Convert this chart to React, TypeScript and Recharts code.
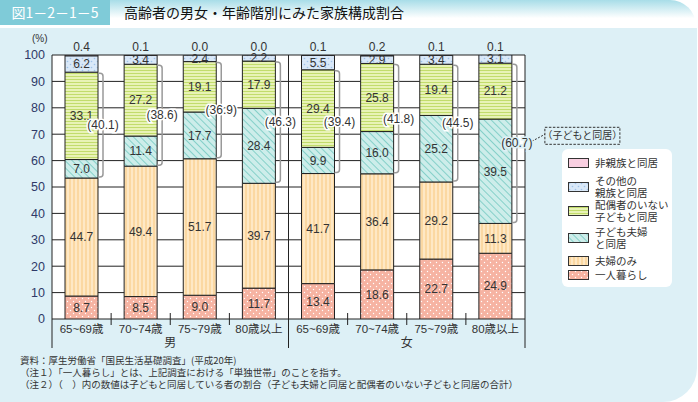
import React from "react";
import { BarChart, Bar, XAxis, YAxis, CartesianGrid, LabelList } from "recharts";

// 年齢階級（男女それぞれ4区分）
const ageGroups = ["65~69歳", "70~74歳", "75~79歳", "80歳以上", "65~69歳", "70~74歳", "75~79歳", "80歳以上"];
const sexes = ["男", "男", "男", "男", "女", "女", "女", "女"];

// 家族構成割合（%）下から順に積み上げ
const livingAlone = [8.7, 8.5, 9.0, 11.7, 13.4, 18.6, 22.7, 24.9];
const coupleOnly = [44.7, 49.4, 51.7, 39.7, 41.7, 36.4, 29.2, 11.3];
const withMarriedChild = [7.0, 11.4, 17.7, 28.4, 9.9, 16.0, 25.2, 39.5];
const withUnmarriedChild = [33.1, 27.2, 19.1, 17.9, 29.4, 25.8, 19.4, 21.2];
const withOtherRelatives = [6.2, 3.4, 2.4, 2.2, 5.5, 2.9, 3.4, 3.1];
const withNonRelatives = [0.4, 0.1, 0.0, 0.0, 0.1, 0.2, 0.1, 0.1];
// 子どもと同居（子ども夫婦と同居＋配偶者のいない子どもと同居）
const withChildrenTotal = [40.1, 38.6, 36.9, 46.3, 39.4, 41.8, 44.5, 60.7];

const yTicks = [0, 10, 20, 30, 40, 50, 60, 70, 80, 90, 100];

// legend, top to bottom
const legendItems = [
  { label: ["非親族と同居"], fill: "url(#pNon)" },
  { label: ["その他の", "親族と同居"], fill: "url(#pOther)" },
  { label: ["配偶者のいない", "子どもと同居"], fill: "url(#pUnmarried)" },
  { label: ["子ども夫婦", "と同居"], fill: "url(#pMarried)" },
  { label: ["夫婦のみ"], fill: "url(#pCouple)" },
  { label: ["一人暮らし"], fill: "url(#pAlone)" },
];
const legendTops = [8, 26, 50, 77, 106, 120];

const data = ageGroups.map((age, i) => ({
  age,
  sex: sexes[i],
  alone: livingAlone[i],
  couple: coupleOnly[i],
  married: withMarriedChild[i],
  unmarried: withUnmarriedChild[i],
  other: withOtherRelatives[i],
  nonrel: withNonRelatives[i],
}));

const W = 698;
const H = 402;
const M = { top: 55, right: 173, bottom: 53, left: 12 };
const Y_AXIS_W = 40;
const X_AXIS_H = 30;
const BAND = (W - M.left - Y_AXIS_W - M.right) / ageGroups.length;

const INK = "#333";
const PANEL = "#ddf0f6";
const JP = "'Noto Sans CJK JP', sans-serif";
const fmt = (v: any) => Number(v).toFixed(1);

const boxOf = (props: any) =>
  props.viewBox && props.viewBox.width !== undefined ? props.viewBox : props;

const AgeTick = (props: any) => {
  const { x, y, payload, index } = props;
  const half = BAND / 2;
  const groupStart = index % 4 === 0;
  const last = index === ageGroups.length - 1;
  return (
    <g>
      <text x={x} y={y + 14} textAnchor="middle" fontSize={11.5} fill={INK}>
        {payload.value}
      </text>
      {groupStart ? (
        <line x1={x - half} x2={x - half} y1={y} y2={y + 29} stroke="#222" />
      ) : (
        <line x1={x - half} x2={x - half} y1={y - 6} y2={y + 6} stroke="#222" />
      )}
      {last && <line x1={x + half} x2={x + half} y1={y} y2={y + 29} stroke="#222" />}
      {index % 4 === 1 && (
        <text x={x + half} y={y + 28} textAnchor="middle" fontSize={12} fill={INK}>
          {sexes[index]}
        </text>
      )}
    </g>
  );
};

// 非親族と同居の値を積み上げの最上部に表示
const TopValue = (props: any) => {
  const { x, y, width, height } = boxOf(props);
  const index = props.index;
  const per = height / withOtherRelatives[index];
  const top = y - withNonRelatives[index] * per;
  return (
    <text x={x + width / 2} y={top - 4} textAnchor="middle" fontSize={12} fill={INK}>
      {fmt(withNonRelatives[index])}
    </text>
  );
};

const Bracket = (props: any) => {
  const { x, y, width, height } = boxOf(props);
  const index = props.index;
  const per = height / withUnmarriedChild[index];
  const top = y + 1;
  const bottom = y + height + withMarriedChild[index] * per - 1;
  const bx = x + width + 5;
  const mid = (top + bottom) / 2;
  const last = index === ageGroups.length - 1;
  return (
    <g>
      <path
        d={`M ${x + width} ${top} L ${bx - 3} ${top} Q ${bx} ${top} ${bx} ${top + 3} L ${bx} ${bottom - 3} Q ${bx} ${bottom} ${bx - 3} ${bottom} L ${x + width} ${bottom}`}
        fill="none"
        stroke="#999"
        strokeWidth={1.5}
      />
      {last && (
        <g>
          <line x1={bx + 15} y1={mid - 2} x2={bx + 28} y2={mid - 9} stroke="#333" strokeDasharray="2 1.5" />
          <rect x={bx + 28} y={mid - 16} width={75} height={17} fill="none" stroke="#333" strokeDasharray="2.5 1.5" />
          <text x={bx + 65.5} y={mid - 4} textAnchor="middle" fontSize={10} fill={INK} fontFamily={JP}>
            （子どもと同居）
          </text>
        </g>
      )}
      <text
        x={bx}
        y={mid + 4}
        textAnchor="middle"
        fontSize={12}
        fill={INK}
        stroke={last ? PANEL : "#fff"}
        strokeWidth={3}
        paintOrder="stroke"
      >
        ({withChildrenTotal[index].toFixed(1)})
      </text>
    </g>
  );
};

const Patterns = () => (
  <svg width={0} height={0} style={{ position: "absolute" }}>
    <defs>
      <pattern id="pAlone" width="6" height="6" patternUnits="userSpaceOnUse">
        <rect width="6" height="6" fill="#f6b3a2" />
        <circle cx="1.5" cy="1.5" r="0.7" fill="#fff" />
        <circle cx="4.5" cy="4.5" r="0.7" fill="#fff" />
      </pattern>
      <pattern id="pCouple" width="4" height="4" patternUnits="userSpaceOnUse">
        <rect width="4" height="4" fill="#fee8c5" />
        <line x1="2" y1="0" x2="2" y2="4" stroke="#f9c97f" strokeWidth="1" />
      </pattern>
      <pattern id="pMarried" width="5" height="5" patternUnits="userSpaceOnUse" patternTransform="rotate(-45)">
        <rect width="5" height="5" fill="#cdedea" />
        <line x1="2.5" y1="0" x2="2.5" y2="5" stroke="#85d0c9" strokeWidth="1" />
      </pattern>
      <pattern id="pUnmarried" width="3" height="3" patternUnits="userSpaceOnUse">
        <rect width="3" height="3" fill="#e8f3b6" />
        <line x1="0" y1="1.5" x2="3" y2="1.5" stroke="#c2dc6c" strokeWidth="1" />
      </pattern>
      <pattern id="pOther" width="6" height="6" patternUnits="userSpaceOnUse">
        <rect width="6" height="6" fill="#d9e8f8" />
        <circle cx="1.5" cy="1.5" r="0.8" fill="#9fc3ea" />
        <circle cx="4.5" cy="4.5" r="0.8" fill="#9fc3ea" />
      </pattern>
      <pattern id="pNon" width="4" height="4" patternUnits="userSpaceOnUse">
        <rect width="4" height="4" fill="#f9cfe1" />
      </pattern>
    </defs>
  </svg>
);

const labelStyle = { fontSize: 12, fill: INK };

export default function App() {
  return (
    <div
      style={{
        position: "absolute",
        left: 0,
        top: 0,
        width: W,
        height: H,
        fontFamily: "'Liberation Sans', Arial, 'Noto Sans CJK JP', sans-serif",
        overflow: "hidden",
      }}
    >
      <Patterns />
      {/* title strip */}
      <div
        style={{
          position: "absolute",
          left: 0,
          top: 0,
          width: W - 2,
          height: 26,
          background: "linear-gradient(to bottom, #a8dde8 0%, #ffffff 70%)",
          borderTopRightRadius: 26,
        }}
      />
      <div
        style={{
          position: "absolute",
          left: 0,
          top: 0,
          width: 110,
          height: 25,
          background: "#7fcbd8",
          color: "#fff",
          fontSize: 14,
          lineHeight: "25px",
          textAlign: "center",
          whiteSpace: "nowrap",
          fontFamily: JP,
        }}
      >
        図1－2－1－5
      </div>
      <div
        style={{
          position: "absolute",
          left: 124,
          top: 0,
          height: 25,
          lineHeight: "25px",
          fontSize: 14,
          color: "#111",
          whiteSpace: "nowrap",
          fontFamily: JP,
        }}
      >
        高齢者の男女・年齢階別にみた家族構成割合
      </div>
      {/* panel */}
      <div
        style={{
          position: "absolute",
          left: 0,
          top: 28,
          width: W - 1,
          height: H - 28,
          background: PANEL,
          borderBottomRightRadius: 34,
        }}
      />
      <div style={{ position: "absolute", left: 32, top: 33, fontSize: 10, color: INK }}>(%)</div>

      <div style={{ position: "absolute", left: 0, top: 0 }}>
        <BarChart width={W} height={H} data={data} margin={M}>
          <CartesianGrid
            fill="#fff"
            stroke="#222"
            strokeOpacity={1}
            verticalCoordinatesGenerator={({ offset }: any) => [
              offset.left,
              offset.left + offset.width / 2,
              offset.left + offset.width,
            ]}
          />
          <XAxis
            dataKey="age"
            height={X_AXIS_H}
            interval={0}
            tickLine={false}
            axisLine={false}
            tickSize={0}
            tickMargin={0}
            tick={<AgeTick />}
          />
          <YAxis
            width={Y_AXIS_W}
            domain={[0, 100]}
            allowDataOverflow
            ticks={yTicks}
            tickLine={false}
            axisLine={false}
            tickSize={0}
            tickMargin={7}
            tick={{ fontSize: 12.5, fill: "#2f3a68" }}
          />
          <Bar dataKey="alone" stackId="a" barSize={33} fill="url(#pAlone)" stroke="#222" isAnimationActive={false}>
            <LabelList dataKey="alone" position="center" formatter={fmt} style={labelStyle} />
          </Bar>
          <Bar dataKey="couple" stackId="a" barSize={33} fill="url(#pCouple)" stroke="#222" isAnimationActive={false}>
            <LabelList dataKey="couple" position="center" formatter={fmt} style={labelStyle} />
          </Bar>
          <Bar dataKey="married" stackId="a" barSize={33} fill="url(#pMarried)" stroke="#222" isAnimationActive={false}>
            <LabelList dataKey="married" position="center" formatter={fmt} style={labelStyle} />
          </Bar>
          <Bar dataKey="unmarried" stackId="a" barSize={33} fill="url(#pUnmarried)" stroke="#222" isAnimationActive={false}>
            <LabelList dataKey="unmarried" position="center" formatter={fmt} style={labelStyle} />
            <LabelList dataKey="unmarried" content={<Bracket />} />
          </Bar>
          <Bar dataKey="other" stackId="a" barSize={33} fill="url(#pOther)" stroke="#222" isAnimationActive={false}>
            <LabelList dataKey="other" position="center" formatter={fmt} style={labelStyle} />
            <LabelList dataKey="other" content={<TopValue />} />
          </Bar>
          <Bar dataKey="nonrel" stackId="a" barSize={33} fill="url(#pNon)" stroke="#222" isAnimationActive={false} />
        </BarChart>
      </div>

      {/* legend */}
      <div
        style={{
          position: "absolute",
          left: 562,
          top: 149,
          width: 110,
          height: 138,
          background: "#fff",
          borderRadius: 6,
          fontFamily: JP,
        }}
      >
        {legendItems.map((it, i) => (
          <div key={i} style={{ position: "absolute", left: 6, top: legendTops[i], display: "flex", alignItems: "center" }}>
            <svg width={21} height={10} style={{ flex: "none" }}>
              <rect x={0.5} y={0.5} width={20} height={9} fill={it.fill} stroke="#333" />
            </svg>
            <div style={{ marginLeft: 6, fontSize: 10.5, lineHeight: "12px", color: INK, whiteSpace: "nowrap" }}>
              {it.label.map((l, j) => (
                <div key={j}>{l}</div>
              ))}
            </div>
          </div>
        ))}
      </div>

      {/* notes */}
      <div
        style={{
          position: "absolute",
          left: 20,
          top: 354,
          fontSize: 9.5,
          lineHeight: "12px",
          color: INK,
          whiteSpace: "nowrap",
          fontFamily: JP,
        }}
      >
        <div>資料：厚生労働省「国民生活基礎調査」(平成20年)</div>
        <div>（注１）「一人暮らし」とは、上記調査における「単独世帯」のことを指す。</div>
        <div>（注２）（　）内の数値は子どもと同居している者の割合（子ども夫婦と同居と配偶者のいない子どもと同居の合計）</div>
      </div>
    </div>
  );
}
